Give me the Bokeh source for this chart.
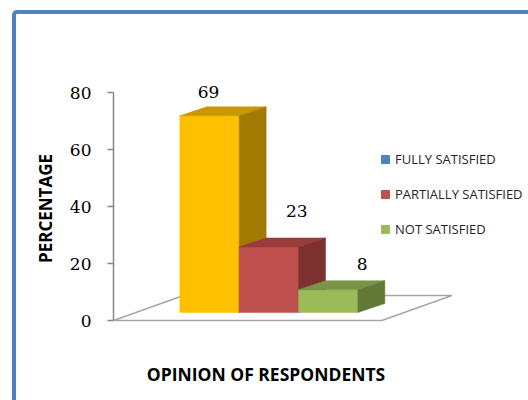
import numpy as np
from bokeh.plotting import figure
from bokeh.models import (ColumnDataSource, Range1d, FixedTicker, Legend, LegendItem,
                          Label, InlineStyleSheet)
from bokeh.core.properties import value
from bokeh.embed import file_html
from bokeh.resources import INLINE

# ---- data ----
CATEGORIES = ["FULLY SATISFIED", "PARTIALLY SATISFIED", "NOT SATISFIED"]
VALUES = [69, 23, 8]
Y_TICKS = [0, 20, 40, 60, 80]
X_TITLE = "OPINION OF RESPONDENTS"
Y_TITLE = "PERCENTAGE"

# ---- styles ----
BAR_FRONT = ["#FFC000", "#C0504D", "#9BBB59"]
BAR_TOP = ["#C99700", "#983D3B", "#7A9446"]
BAR_SIDE = ["#A27A00", "#7D302E", "#627836"]
LEGEND_COLORS = ["#4F81BD", "#C0504D", "#9BBB59"]
LABEL_DX_PX = [-1, 28, 34]
LABEL_DY_PX = [-24, -36, -26]

W, H = 528, 400
FRAME_L, FRAME_R, FRAME_T, FRAME_B = 113, 528, 20, 396
Y0_PX, Y80_PX = 320, 92
PX_PER_Y = (Y0_PX - Y80_PX) / 80.0
BAR_W_PX = 59.33
FIRST_CENTER_PX = 209.0


def xd(px):
    return (px - FIRST_CENTER_PX) / BAR_W_PX


def yd(py):
    return (Y0_PX - py) / PX_PER_Y


def dxu(px):
    return px / BAR_W_PX


def dyu(px):
    return px / PX_PER_Y


border_css = InlineStyleSheet(css="""
:host::after {
  content: "";
  position: absolute;
  left: 12px; top: 10px;
  width: 516px; height: 390px;
  box-sizing: border-box;
  border-left: 4.5px solid #4F81BD;
  border-top: 4.5px solid #4F81BD;
  border-top-left-radius: 5px;
  pointer-events: none;
}
""")

p = figure(width=W, height=H,
           x_range=Range1d(xd(FRAME_L), xd(FRAME_R)),
           y_range=Range1d(yd(FRAME_B), yd(FRAME_T)),
           output_backend="svg", toolbar_location=None,
           x_axis_location=None,
           min_border_left=FRAME_L, min_border_right=W - FRAME_R,
           min_border_top=FRAME_T, min_border_bottom=H - FRAME_B,
           background_fill_color="white", border_fill_color="white",
           outline_line_color=None, stylesheets=[border_css])
p.xgrid.visible = False
p.ygrid.visible = False

ax = p.yaxis[0]
ax.ticker = FixedTicker(ticks=Y_TICKS)
ax.bounds = (Y_TICKS[0], Y_TICKS[-1])
ax.axis_line_color = "#868686"
ax.axis_line_width = 1.5
ax.major_tick_line_color = "#868686"
ax.major_tick_line_width = 1.5
ax.major_tick_out = 6
ax.major_tick_in = 0
ax.minor_tick_out = 0
ax.minor_tick_in = 0
ax.major_label_text_font = "DejaVu Serif"
ax.major_label_text_font_size = "17px"
ax.major_label_text_color = "#000000"
ax.major_label_standoff = 16
ax.axis_label = Y_TITLE
ax.axis_label_text_font = "Open Sans"
ax.axis_label_text_font_style = "bold"
ax.axis_label_text_font_size = "17px"
ax.axis_label_text_color = "#000000"
ax.axis_label_standoff = 10

# ---- floor outline ----
n = len(VALUES)
FLOOR_DX, FLOOR_DY = dxu(70), dyu(25)
fx0 = xd(FRAME_L)
fx1 = (n - 1) + 0.5 + dxu(24)
floor_xs = [[fx0, fx1, fx1 + FLOOR_DX, fx0 + FLOOR_DX, fx0]]
floor_ys = [[0, 0, FLOOR_DY, FLOOR_DY, 0]]
p.multi_line(xs=floor_xs, ys=floor_ys, line_color="#A6A6A6", line_width=1.5)

# ---- 3D bars ----
BASE = dyu(8)
DDX, DDY = dxu(27), dyu(9)
xs, ys, cols = [], [], []
for i, v in enumerate(VALUES):
    x0, x1 = i - 0.5, i + 0.5
    b, t = BASE, BASE + v
    xs.append([x0, x1, x1, x0]); ys.append([b, b, t, t]); cols.append(BAR_FRONT[i])
    xs.append([x0, x1, x1 + DDX, x0 + DDX]); ys.append([t, t, t + DDY, t + DDY]); cols.append(BAR_TOP[i])
    xs.append([x1, x1 + DDX, x1 + DDX, x1]); ys.append([b, b + DDY, t + DDY, t]); cols.append(BAR_SIDE[i])
bar_src = ColumnDataSource(dict(xs=xs, ys=ys, c=cols))
p.patches(xs="xs", ys="ys", source=bar_src, fill_color="c", line_color="c", line_width=0.5)

# ---- data labels ----
lab_src = ColumnDataSource(dict(
    x=list(range(n)), y=[BASE + v for v in VALUES], t=[str(v) for v in VALUES],
    xo=LABEL_DX_PX, yo=LABEL_DY_PX))
p.text(x="x", y="y", text="t", source=lab_src, x_offset="xo", y_offset="yo",
       text_font=value("DejaVu Serif"), text_font_size="17px", text_color="#000000",
       text_align="center", text_baseline="middle")

# ---- x title ----
p.add_layout(Label(x=xd(265.5), y=yd(373.5), text=X_TITLE, text_font="Open Sans",
                   text_font_style="bold", text_font_size="17.5px", text_color="#000000",
                   text_align="center", text_baseline="middle"))

# ---- legend (key-only renderers: no visible points) ----
items = []
for name, col in zip(CATEGORIES, LEGEND_COLORS):
    r = p.scatter(x="x", y="y", source=ColumnDataSource(dict(x=np.array([np.nan]), y=np.array([np.nan]))),
                  marker="square", size=8, fill_color=col, line_color=col)
    items.append(LegendItem(label=name, renderers=[r]))
legend = Legend(items=items, location=(375 - FRAME_L, FRAME_B - 239),
                glyph_width=20, glyph_height=20, label_height=20, label_standoff=-5,
                spacing=15, padding=0, margin=0, border_line_color=None,
                background_fill_alpha=0, label_text_font="Open Sans",
                label_text_font_size="13px", label_text_color="#262626")
p.add_layout(legend)

open("out.html", "w").write(file_html(p, INLINE))
